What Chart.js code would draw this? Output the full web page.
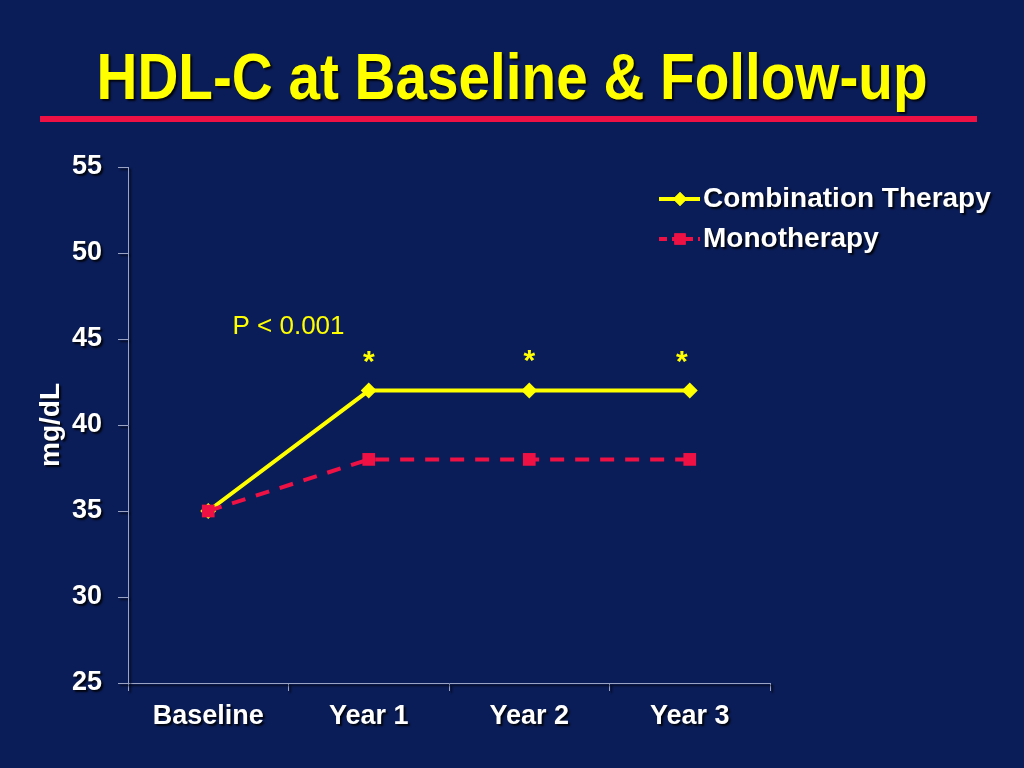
<!DOCTYPE html>
<html><head><meta charset="utf-8">
<script src="https://cdn.jsdelivr.net/npm/chart.js@4.4.1/dist/chart.umd.min.js"></script>
<style>html,body{margin:0;padding:0;background:#0b1d58;}canvas{display:block;}</style>
</head><body>
<canvas id="c" width="1024" height="768"></canvas>
<script>
const titleText = 'HDL-C at Baseline & Follow-up';
const categories = ['Baseline', 'Year 1', 'Year 2', 'Year 3'];
const combinationValues = [35, 42, 42, 42];
const monotherapyValues = [35, 38, 38, 38];
const seriesNames = ['Combination Therapy', 'Monotherapy'];
const yTicks = [25, 30, 35, 40, 45, 50, 55];
const yTitle = 'mg/dL';
const pText = 'P < 0.001';
const starIndices = [1, 2, 3];
const starValues = [43.6, 43.7, 43.6];

const BG = '#0b1d58', YEL = '#ffff00', RED = '#ee1144', AX = '#9aa3c4';
const FAM = '"Liberation Sans", Arial, sans-serif';

function shadowOn(ctx){ctx.shadowColor='rgba(0,0,0,0.85)';ctx.shadowOffsetX=2;ctx.shadowOffsetY=2;ctx.shadowBlur=2;}

const decor = {
  id: 'decor',
  beforeDraw(chart){
    const ctx = chart.ctx;
    ctx.save();
    ctx.fillStyle = BG; ctx.fillRect(0,0,chart.width,chart.height);
    ctx.font = 'bold 60px "Liberation Sans Narrow", "Arial Narrow", ' + FAM;
    const w = ctx.measureText(titleText).width;
    const target = 831;
    ctx.translate(512, 81);
    ctx.scale(target / w, 1.08);
    shadowOn(ctx);
    ctx.fillStyle = YEL; ctx.textAlign = 'center'; ctx.textBaseline = 'middle';
    ctx.fillText(titleText, 0, 0);
    ctx.restore();
    ctx.save();
    ctx.fillStyle = RED; ctx.fillRect(40, 116, 937, 6);
    ctx.restore();
    ctx.save(); shadowOn(ctx);
  },
  beforeDatasetsDraw(chart){
    chart.ctx.restore();
  },
  afterDraw(chart){
    const ctx = chart.ctx;
    const xs = chart.scales.x, ys = chart.scales.y;
    ctx.save();
    ctx.fillStyle = YEL; ctx.textAlign = 'center'; ctx.textBaseline = 'middle';
    ctx.font = '26px ' + FAM;
    ctx.fillText(pText, (xs.getPixelForValue(0)+xs.getPixelForValue(1))/2, ys.getPixelForValue(45.7));
    ctx.font = 'bold 30px ' + FAM;
    starIndices.forEach((i, k) => {
      const dx = k === 2 ? -8 : 0;
      ctx.fillText('*', xs.getPixelForValue(i) + dx, ys.getPixelForValue(starValues[k]));
    });
    const items = [
      {name: seriesNames[0], color: YEL, dash: [], style: 'rectRot', y: 199},
      {name: seriesNames[1], color: RED, dash: [8,5], style: 'rect', y: 239}
    ];
    items.forEach(it => {
      ctx.save();
      ctx.strokeStyle = it.color; ctx.lineWidth = 4; ctx.setLineDash(it.dash);
      ctx.beginPath(); ctx.moveTo(659, it.y); ctx.lineTo(700, it.y); ctx.stroke();
      ctx.setLineDash([]);
      ctx.fillStyle = it.color;
      Chart.helpers.drawPoint(ctx, {pointStyle: it.style, radius: it.style==='rect'?8:7, borderWidth: 0}, 680, it.y);
      ctx.fill();
      ctx.restore();
      ctx.save(); shadowOn(ctx);
      ctx.fillStyle = '#ffffff'; ctx.textAlign = 'left'; ctx.textBaseline = 'middle';
      ctx.font = 'bold 28px ' + FAM;
      ctx.fillText(it.name, 703, it.y);
      ctx.restore();
    });
    ctx.restore();
  }
};

new Chart(document.getElementById('c'), {
  type: 'line',
  data: {
    labels: categories,
    datasets: [
      {label: seriesNames[0], data: combinationValues, borderColor: YEL, backgroundColor: YEL,
       borderWidth: 4, pointStyle: 'rectRot', pointRadius: 8, pointBorderWidth: 0, order: 1, tension: 0},
      {label: seriesNames[1], data: monotherapyValues, borderColor: RED, backgroundColor: RED,
       borderWidth: 4, borderDash: [14, 11], pointStyle: 'rect', pointRadius: 9, pointBorderWidth: 0, order: 0, tension: 0}
    ]
  },
  options: {
    responsive: false, animation: false, devicePixelRatio: 1,
    layout: {padding: {left: 0, right: 254, top: 167, bottom: 0}},
    plugins: {legend: {display: false}, title: {display: false}, tooltip: {enabled: false}},
    scales: {
      x: {
        offset: true,
        grid: {display: true, offset: true, drawOnChartArea: false, color: AX, tickLength: 8, lineWidth: 1},
        border: {display: true, color: AX, width: 1},
        ticks: {color: '#ffffff', font: {size: 27, weight: 'bold', family: FAM}, padding: 9, maxRotation: 0},
        afterFit(s){ s.height = 85; }
      },
      y: {
        min: 25, max: 55,
        afterBuildTicks(s){ s.ticks = yTicks.map(v => ({value: v})); },
        grid: {display: true, drawOnChartArea: false, color: AX, tickLength: 10, lineWidth: 1},
        border: {display: true, color: AX, width: 1},
        ticks: {color: '#ffffff', font: {size: 27, weight: 'bold', family: FAM}, padding: 16},
        title: {display: true, text: yTitle, color: '#ffffff', font: {size: 28, weight: 'bold', family: FAM}, padding: {top: 34, bottom: 0}},
        afterFit(s){ s.width = 128; }
      }
    }
  },
  plugins: [decor]
});
</script>
</body></html>
